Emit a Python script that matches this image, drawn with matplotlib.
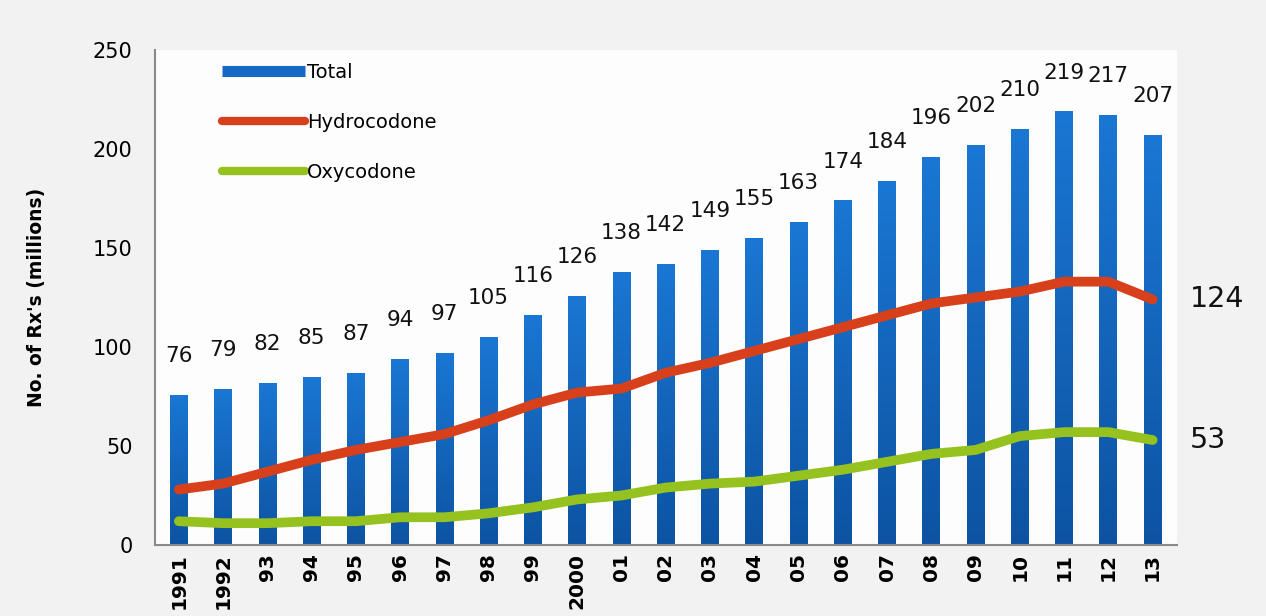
import numpy as np
import matplotlib
matplotlib.use("Agg")
import matplotlib.pyplot as plt
from matplotlib.lines import Line2D
from matplotlib.colors import LinearSegmentedColormap

years = ["1991", "1992", "93", "94", "95", "96", "97", "98", "99", "2000",
         "01", "02", "03", "04", "05", "06", "07", "08", "09", "10",
         "11", "12", "13"]
total = [76, 79, 82, 85, 87, 94, 97, 105, 116, 126, 138, 142, 149, 155,
         163, 174, 184, 196, 202, 210, 219, 217, 207]
hydrocodone = [28, 31, 37, 43, 48, 52, 56, 63, 71, 77, 79, 87, 92, 98,
               104, 110, 116, 122, 125, 128, 133, 133, 124]
oxycodone = [12, 11, 11, 12, 12, 14, 14, 16, 19, 23, 25, 29, 31, 32,
             35, 38, 42, 46, 48, 55, 57, 57, 53]

BLUE = "#1668c6"
RED = "#d8401c"
GREEN = "#95c21f"
bar_cmap = LinearSegmentedColormap.from_list("bar", ["#0d53a2", "#1a77d3"])

fig = plt.figure(figsize=(12.66, 6.16), dpi=100, facecolor="#f2f2f2")
ax = fig.add_axes([0.1224, 0.1153, 0.8076, 0.8035])
ax.set_facecolor("#fdfdfd")

x = np.arange(len(years))
bars = ax.bar(x, total, width=0.40, color=BLUE, zorder=2)

# vertical shading inside each bar, dark at the base
grad = np.linspace(0, 1, 256).reshape(-1, 1)
for b in bars:
    x0, w, h = b.get_x(), b.get_width(), b.get_height()
    im = ax.imshow(grad, cmap=bar_cmap, aspect="auto", origin="lower",
                   extent=(x0, x0 + w, 0, h), zorder=2.1)
    im.set_clip_path(b)

ax.plot(x, hydrocodone, color=RED, lw=7, solid_capstyle="round",
        solid_joinstyle="round", zorder=3)
ax.plot(x, oxycodone, color=GREEN, lw=7, solid_capstyle="round",
        solid_joinstyle="round", zorder=3)

# value labels above the bars
for xi, v in zip(x, total):
    ax.annotate(str(v), (xi, v), xytext=(0, 28), textcoords="offset points",
                ha="center", va="center", fontsize=15.5, color="#111111")

# end values for the two lines
ax.annotate(str(hydrocodone[-1]), (x[-1], hydrocodone[-1]), xytext=(27, 0),
            textcoords="offset points", ha="left", va="center",
            fontsize=20.5, color="#111111")
ax.annotate(str(oxycodone[-1]), (x[-1], oxycodone[-1]), xytext=(27, 0),
            textcoords="offset points", ha="left", va="center",
            fontsize=20.5, color="#111111")

ax.set_xlim(-0.54, 22.56)
ax.set_ylim(0, 250)
ax.set_yticks([0, 50, 100, 150, 200, 250])
ax.set_xticks(x)
ax.set_xticklabels(years, rotation=90, fontsize=14.5, fontweight="bold")
ax.tick_params(axis="y", length=0, pad=16, labelsize=15)
ax.tick_params(axis="x", length=0, pad=6)
ax.set_ylabel("No. of Rx's (millions)", fontsize=13.5, fontweight="bold",
              labelpad=34)

for side in ["top", "right"]:
    ax.spines[side].set_visible(False)
for side in ["left", "bottom"]:
    ax.spines[side].set_color("#8a8a8a")
    ax.spines[side].set_linewidth(1.5)

handles = [Line2D([], [], color=BLUE, lw=8, solid_capstyle="butt"),
           Line2D([], [], color=RED, lw=6, solid_capstyle="round"),
           Line2D([], [], color=GREEN, lw=6, solid_capstyle="round")]
ax.legend(handles, ["Total", "Hydrocodone", "Oxycodone"], loc="upper left",
          bbox_to_anchor=(0.048, 1.01), frameon=False, fontsize=14,
          handlelength=4.3, handletextpad=0.1, labelspacing=1.6)

fig.savefig("out.png", dpi=100, facecolor=fig.get_facecolor())
